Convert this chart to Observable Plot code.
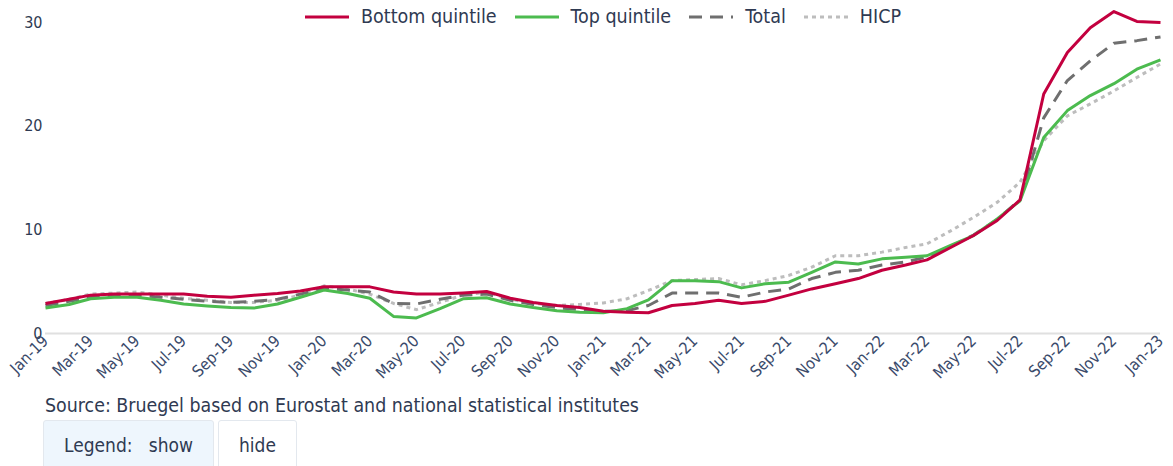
<!DOCTYPE html>
<html>
<head>
<meta charset="utf-8">
<script src="https://cdn.jsdelivr.net/npm/d3@7"></script>
<script src="https://cdn.jsdelivr.net/npm/@observablehq/plot@0.6"></script>
<style>
  body { margin: 0; background: #fff; font-family: "DejaVu Sans Condensed", "DejaVu Sans", sans-serif; color: #333a4a; }
  #wrap { position: relative; width: 1173px; height: 466px; overflow: hidden; }
  #legend { position: absolute; top: 5px; left: 305px; display: flex; align-items: center; font-size: 19.5px; color: #2f3a52; }
  .item { display: flex; align-items: center; margin-right: 18px; }
  .item svg { margin-right: 12px; }
  #source { position: absolute; left: 45px; top: 394px; font-size: 19.4px; color: #2f3a52; }
  #buttons { position: absolute; left: 43px; top: 420px; display: flex; }
  .btn { height: 50px; box-sizing: border-box; border: 1px solid #e3e8ee; border-radius: 3px; font-size: 19px; color: #2f3a52; display: flex; align-items: center; padding: 0 20px; }
  .btn.active { background: #eef6fd; }
  .btn + .btn { margin-left: 4px; }
</style>
</head>
<body>
<div id="wrap">
  <div id="chart"></div>
  <div id="legend"></div>
  <div id="source">Source: Bruegel based on Eurostat and national statistical institutes</div>
  <div id="buttons"><div class="btn active">Legend:&nbsp;&nbsp;&nbsp;show</div><div class="btn">hide</div></div>
</div>
<script>
const startMonth = new Date(Date.UTC(2019, 0, 1));
const endMonth = new Date(Date.UTC(2023, 0, 1));
const months = d3.utcMonth.range(startMonth, d3.utcMonth.offset(endMonth, 1));

const seriesNames = ["Bottom quintile", "Top quintile", "Total", "HICP"];

const bottomQuintile = [
  2.9, 3.3, 3.7, 3.8, 3.8, 3.8, 3.8, 3.6, 3.5, 3.7, 3.85, 4.1,
  4.5, 4.5, 4.5, 4.0, 3.8, 3.8, 3.9, 4.05, 3.4, 3.0, 2.7, 2.5,
  2.15, 2.05, 2.0, 2.7, 2.9, 3.2, 2.9, 3.1, 3.7, 4.3, 4.8, 5.3,
  6.1, 6.6, 7.1, 8.3, 9.45, 10.9, 12.9, 23.1, 27.1, 29.5, 31.05, 30.1, 30.0
];
const topQuintile = [
  2.45, 2.8, 3.35, 3.5, 3.5, 3.2, 2.85, 2.65, 2.5, 2.45, 2.85, 3.5,
  4.2, 3.85, 3.4, 1.65, 1.5, 2.4, 3.35, 3.45, 2.85, 2.5, 2.2, 2.05,
  2.0, 2.4, 3.25, 5.1, 5.1, 5.0, 4.4, 4.8, 4.95, 5.9, 6.9, 6.7,
  7.2, 7.35, 7.5, 8.5, 9.45, 11.05, 12.8, 18.9, 21.5, 22.95, 24.1, 25.5, 26.4
];
const total = [
  2.7, 3.1, 3.5, 3.7, 3.7, 3.5, 3.3, 3.1, 3.0, 3.1, 3.3, 3.8,
  4.35, 4.2, 4.0, 2.9, 2.85, 3.3, 3.7, 3.8, 3.2, 2.8, 2.5, 2.3,
  2.15, 2.2, 2.7, 3.9, 3.9, 3.9, 3.5, 4.0, 4.3, 5.3, 5.9, 6.1,
  6.6, 6.9, 7.4, 8.4, 9.5, 11.0, 12.9, 20.8, 24.4, 26.3, 28.0, 28.25, 28.6
];
const hicp = [
  2.9, 3.3, 3.8, 3.9, 4.0, 3.7, 3.4, 3.2, 3.0, 3.0, 3.2, 3.7,
  4.6, 4.3, 3.8, 2.9, 2.3, 3.0, 3.7, 4.0, 3.3, 2.9, 2.7, 2.8,
  2.95, 3.35, 4.15, 5.1, 5.2, 5.3, 4.7, 5.1, 5.6, 6.4, 7.5, 7.5,
  7.85, 8.3, 8.65, 9.9, 11.2, 12.65, 14.6, 18.6, 21.0, 22.15, 23.4, 24.7, 26.0
];
const yTicks = [0, 10, 20, 30];

const styles = {
  "Bottom quintile": {stroke: "#c3003f", dash: null, width: 3},
  "Top quintile": {stroke: "#4cbb4f", dash: null, width: 3},
  "Total": {stroke: "#6f6f6f", dash: "13,8", width: 3},
  "HICP": {stroke: "#bdbdbd", dash: "4,4", width: 3}
};

const valuesByName = {
  "Bottom quintile": bottomQuintile,
  "Top quintile": topQuintile,
  "Total": total,
  "HICP": hicp
};

const xTicks = months.filter((d, i) => i % 2 === 0);
const fmt = d3.utcFormat("%b-%y");

const drawOrder = ["HICP", "Total", "Top quintile", "Bottom quintile"];
const lineMarks = drawOrder.map(name => {
  const data = months.map((m, i) => ({date: m, value: valuesByName[name][i]}));
  const s = styles[name];
  return Plot.line(data, {
    x: "date", y: "value", stroke: s.stroke, strokeWidth: s.width,
    strokeDasharray: s.dash, strokeLinejoin: "round", strokeLinecap: "butt"
  });
});

const chart = Plot.plot({
  width: 1173,
  height: 395,
  marginTop: 22,
  marginBottom: 62,
  marginLeft: 45,
  marginRight: 13,
  style: {fontFamily: "'DejaVu Sans Condensed', 'DejaVu Sans', sans-serif", color: "#2f3a52", background: "transparent", overflow: "visible"},
  x: {type: "utc", domain: [startMonth, endMonth], ticks: xTicks, tickFormat: fmt, label: null},
  y: {domain: [0, 30], ticks: yTicks, label: null},
  marks: [
    Plot.ruleY([0], {stroke: "#e0e0e0", strokeWidth: 2}),
    Plot.axisY({ticks: yTicks, tickSize: 0, tickPadding: 3, fontSize: 16, fill: "#2f3a52", label: null}),
    Plot.axisX({ticks: xTicks, tickFormat: fmt, tickSize: 0, tickPadding: 5, tickRotate: -45, fontSize: 16, fill: "#3a4a6a", label: null}),
    ...lineMarks
  ]
});
document.getElementById("chart").appendChild(chart);

const legend = document.getElementById("legend");
seriesNames.forEach(name => {
  const s = styles[name];
  const item = document.createElement("div");
  item.className = "item";
  item.innerHTML = `<svg width="44" height="6"><line x1="0" y1="3" x2="44" y2="3" stroke="${s.stroke}" stroke-width="${s.width}" ${s.dash ? `stroke-dasharray="${s.dash}"` : ""}/></svg><span>${name}</span>`;
  legend.appendChild(item);
});
</script>
</body>
</html>
